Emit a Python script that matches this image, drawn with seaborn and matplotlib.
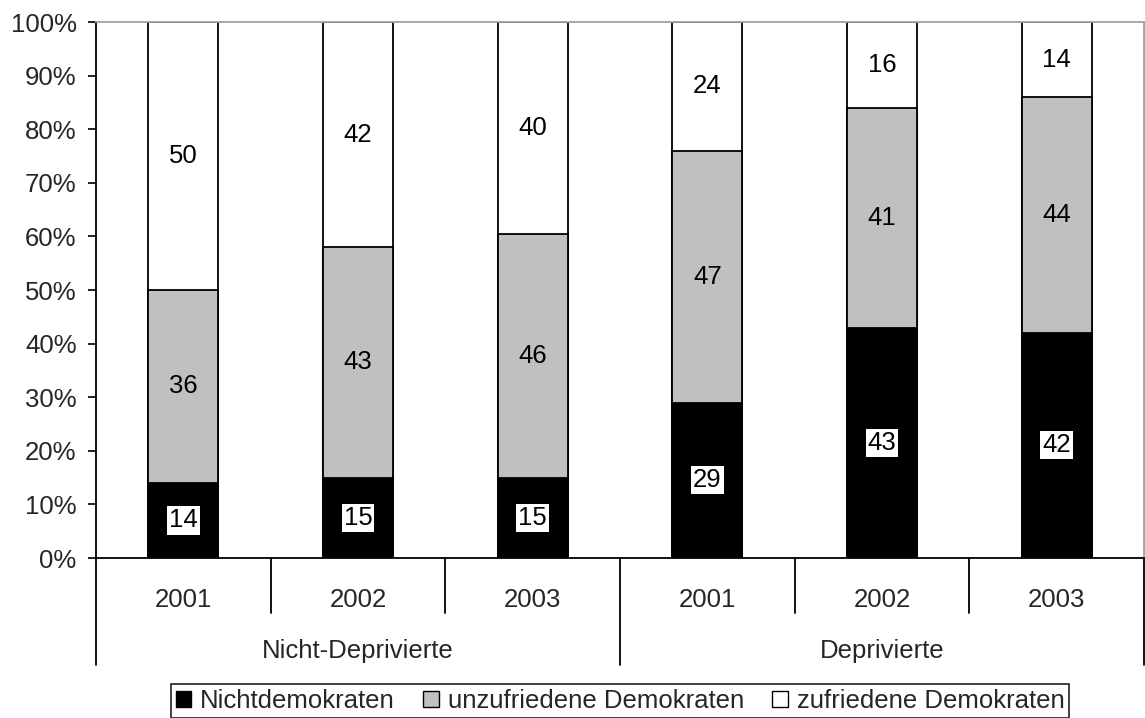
import pandas as pd
import matplotlib
matplotlib.use("Agg")
import matplotlib.pyplot as plt
import seaborn as sns
from matplotlib.patches import Patch

sns.set_style("white")
plt.rcParams['font.family'] = ['Liberation Sans', 'DejaVu Sans']

# data (percent, rows do not always sum to 100)
groups = ["Nicht-Deprivierte", "Deprivierte"]
years = ["2001", "2002", "2003", "2001", "2002", "2003"]
nichtdemokraten = [14, 15, 15, 29, 43, 42]
unzufriedene = [36, 43, 46, 47, 41, 44]
zufriedene = [50, 42, 40, 24, 16, 14]
series_names = ["Nichtdemokraten", "unzufriedene Demokraten", "zufriedene Demokraten"]
colors = ["black", "#c0c0c0", "white"]

df = pd.DataFrame({
    "pos": range(len(years)),
    "year": years,
    "nd": nichtdemokraten,
    "ud": unzufriedene,
    "zd": zufriedene,
})
total = df[["nd", "ud", "zd"]].sum(axis=1)
# 100% stacked: normalise each bar
df["c1"] = df["nd"] / total * 100
df["c2"] = (df["nd"] + df["ud"]) / total * 100
df["c3"] = (df["nd"] + df["ud"] + df["zd"]) / total * 100

fig = plt.figure(figsize=(11.45, 7.18), dpi=100)
ax = fig.add_axes([96 / 1145, 160 / 718, 1048 / 1145, 536 / 718])

FS = 18.5

# draw cumulative layers, tallest first
for col, c in zip(["c3", "c2", "c1"], colors[::-1]):
    sns.barplot(data=df, x="pos", y=col, color=c, edgecolor="black",
                linewidth=1.3, width=0.4, saturation=1, ax=ax, errorbar=None)

# segment labels
for i, row in df.iterrows():
    ax.text(i, row["c1"] / 2, str(row["nd"]), ha="center", va="center", fontsize=FS,
            color="black",
            bbox=dict(boxstyle="square,pad=0.08", facecolor="white", edgecolor="none"))
    ax.text(i, (row["c1"] + row["c2"]) / 2, str(row["ud"]), ha="center", va="center",
            fontsize=FS, color="black")
    ax.text(i, (row["c2"] + row["c3"]) / 2, str(row["zd"]), ha="center", va="center",
            fontsize=FS, color="black")

ax.set_xlim(-0.5, 5.5)
ax.set_ylim(0, 100)
ax.set_yticks(range(0, 101, 10))
ax.set_yticklabels([f"{v}%" for v in range(0, 101, 10)], fontsize=FS)
ax.tick_params(axis="y", left=True, length=6, width=1.2, pad=8, color="black")
ax.set_xticks([])
ax.set_xlabel("")
ax.set_ylabel("")

for s in ["left", "bottom"]:
    ax.spines[s].set_color("black")
    ax.spines[s].set_linewidth(1.3)
for s in ["top", "right"]:
    ax.spines[s].set_color("#a0a0a0")
    ax.spines[s].set_linewidth(1.3)

# two level category axis
trans = ax.get_xaxis_transform()
for i, y in enumerate(years):
    ax.text(i, -0.0909, y, ha="center", va="baseline", fontsize=FS, transform=trans)
for g, name in enumerate(groups):
    ax.text(g * 3 + 1, -0.1866, name, ha="center", va="baseline", fontsize=FS, transform=trans)

for x in [-0.5, 0.5, 1.5, 2.5, 3.5, 4.5, 5.5]:
    low = -0.1996 if x in (-0.5, 2.5, 5.5) else -0.1026
    ax.plot([x, x], [0, low], color="black", lw=1.3, transform=trans, clip_on=False)

handles = [Patch(facecolor=c, edgecolor="black", linewidth=1) for c in colors]
leg = fig.legend(handles, series_names, loc="upper center", ncol=3,
                 bbox_to_anchor=(620 / 1145, 1 - 684 / 718), bbox_transform=fig.transFigure,
                 fontsize=FS, frameon=True, fancybox=False, edgecolor="black",
                 handlelength=0.6, handleheight=0.6, handletextpad=0.35,
                 columnspacing=1.1, borderpad=0.2, borderaxespad=0)
leg.get_frame().set_linewidth(1.3)

fig.savefig("out.png", dpi=100)
